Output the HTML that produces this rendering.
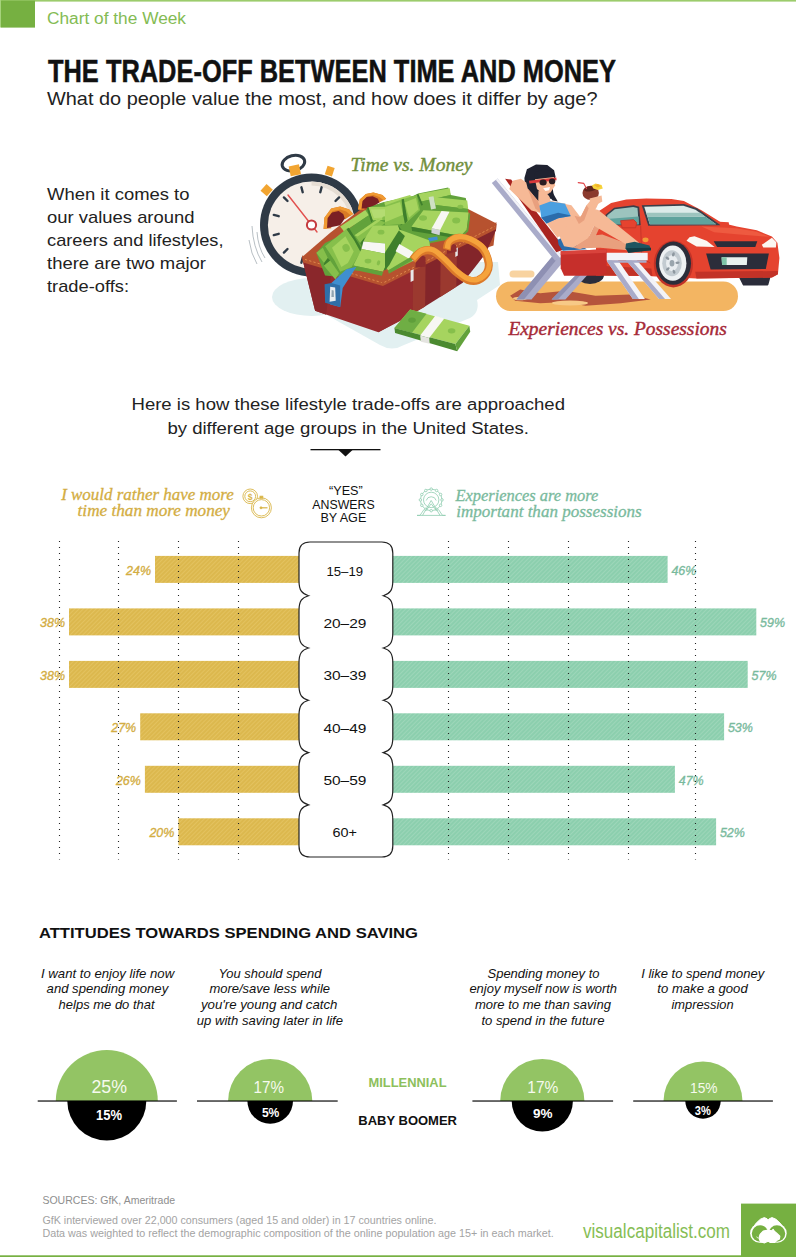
<!DOCTYPE html>
<html lang="en"><head><meta charset="utf-8"><title>The Trade-Off Between Time and Money</title>
<style>
html,body{margin:0;padding:0;background:#fff;}
body{width:796px;height:1257px;overflow:hidden;font-family:"Liberation Sans",sans-serif;}
svg{display:block;}
text{white-space:pre;}
</style></head><body>
<svg width="796" height="1257" viewBox="0 0 796 1257">
<defs>
<pattern id="hg" width="3" height="3" patternUnits="userSpaceOnUse" patternTransform="rotate(-45)"><rect width="3" height="3" fill="#dcb84e"/><rect width="3" height="1" fill="#e3c25f"/></pattern>
<pattern id="ht" width="3" height="3" patternUnits="userSpaceOnUse" patternTransform="rotate(-45)"><rect width="3" height="3" fill="#8ccfae"/><rect width="3" height="1" fill="#9dd6b9"/></pattern>
</defs>
<rect x="0" y="0" width="796" height="1257" fill="#fff"/>
<rect x="0" y="0" width="796" height="1.6" fill="#9ccc6c"/>
<rect x="0" y="0" width="1.2" height="27.5" fill="#a6d37c"/><rect x="1" y="0.6" width="34" height="27" fill="#76b041"/>
<text x="47.0" y="23.8" font-family="Liberation Sans" font-size="16" font-weight="normal" font-style="normal" fill="#84bb53" text-anchor="start" textLength="139.0" lengthAdjust="spacingAndGlyphs" >Chart of the Week</text>
<text x="48.0" y="81.8" font-family="Liberation Sans" font-size="31.3" font-weight="bold" font-style="normal" fill="#111" text-anchor="start" textLength="568.0" lengthAdjust="spacingAndGlyphs" stroke="#111" stroke-width="0.5">THE TRADE-OFF BETWEEN TIME AND MONEY</text>
<text x="47.0" y="104.6" font-family="Liberation Sans" font-size="17.7" font-weight="normal" font-style="normal" fill="#222" text-anchor="start" textLength="550.5" lengthAdjust="spacingAndGlyphs" >What do people value the most, and how does it differ by age?</text>
<text x="47.0" y="200.0" font-family="Liberation Sans" font-size="17" font-weight="normal" font-style="normal" fill="#222" text-anchor="start" textLength="142.5" lengthAdjust="spacingAndGlyphs" >When it comes to</text>
<text x="47.0" y="223.0" font-family="Liberation Sans" font-size="17" font-weight="normal" font-style="normal" fill="#222" text-anchor="start" textLength="147.5" lengthAdjust="spacingAndGlyphs" >our values around</text>
<text x="47.0" y="246.0" font-family="Liberation Sans" font-size="17" font-weight="normal" font-style="normal" fill="#222" text-anchor="start" textLength="176.5" lengthAdjust="spacingAndGlyphs" >careers and lifestyles,</text>
<text x="47.0" y="269.0" font-family="Liberation Sans" font-size="17" font-weight="normal" font-style="normal" fill="#222" text-anchor="start" textLength="159.0" lengthAdjust="spacingAndGlyphs" >there are two major</text>
<text x="47.0" y="291.7" font-family="Liberation Sans" font-size="17" font-weight="normal" font-style="normal" fill="#222" text-anchor="start" textLength="82.0" lengthAdjust="spacingAndGlyphs" >trade-offs:</text>
<text x="350.5" y="171.2" font-family="Liberation Serif" font-size="18.2" font-weight="normal" font-style="italic" fill="#728f3c" text-anchor="start" textLength="122.0" lengthAdjust="spacingAndGlyphs" stroke="#728f3c" stroke-width="0.4">Time vs. Money</text>
<text x="508.4" y="334.6" font-family="Liberation Serif" font-size="18.2" font-weight="normal" font-style="italic" fill="#a62a38" text-anchor="start" textLength="218.4" lengthAdjust="spacingAndGlyphs" stroke="#a62a38" stroke-width="0.4">Experiences vs. Possessions</text>
<text x="131.5" y="410.4" font-family="Liberation Sans" font-size="17.2" font-weight="normal" font-style="normal" fill="#222" text-anchor="start" textLength="433.5" lengthAdjust="spacingAndGlyphs" >Here is how these lifestyle trade-offs are approached</text>
<text x="167.4" y="433.5" font-family="Liberation Sans" font-size="17.2" font-weight="normal" font-style="normal" fill="#222" text-anchor="start" textLength="361.6" lengthAdjust="spacingAndGlyphs" >by different age groups in the United States.</text>
<rect x="310.5" y="449" width="70" height="1.3" fill="#111"/>
<path d="M338.5 450 L352.5 450 L345.5 456.5 Z" fill="#111"/>
<text x="61.2" y="499.8" font-family="Liberation Serif" font-size="16.5" font-weight="normal" font-style="italic" fill="#d3ad42" text-anchor="start" textLength="172.5" lengthAdjust="spacingAndGlyphs" stroke="#d3ad42" stroke-width="0.3">I would rather have more</text>
<text x="77.6" y="516.2" font-family="Liberation Serif" font-size="16.5" font-weight="normal" font-style="italic" fill="#d3ad42" text-anchor="start" textLength="152.4" lengthAdjust="spacingAndGlyphs" stroke="#d3ad42" stroke-width="0.3">time than more money</text>
<text x="455.5" y="500.5" font-family="Liberation Serif" font-size="16.5" font-weight="normal" font-style="italic" fill="#79ba9d" text-anchor="start" textLength="142.8" lengthAdjust="spacingAndGlyphs" stroke="#79ba9d" stroke-width="0.3">Experiences are more</text>
<text x="456.2" y="516.9" font-family="Liberation Serif" font-size="16.5" font-weight="normal" font-style="italic" fill="#79ba9d" text-anchor="start" textLength="185.5" lengthAdjust="spacingAndGlyphs" stroke="#79ba9d" stroke-width="0.3">important than possessions</text>
<text x="329.0" y="495.3" font-family="Liberation Sans" font-size="12" font-weight="normal" font-style="normal" fill="#111" text-anchor="start" textLength="33.7" lengthAdjust="spacingAndGlyphs" >“YES”</text>
<text x="312.3" y="509.2" font-family="Liberation Sans" font-size="12" font-weight="normal" font-style="normal" fill="#111" text-anchor="start" textLength="62.4" lengthAdjust="spacingAndGlyphs" >ANSWERS</text>
<text x="320.4" y="521.9" font-family="Liberation Sans" font-size="12" font-weight="normal" font-style="normal" fill="#111" text-anchor="start" textLength="45.9" lengthAdjust="spacingAndGlyphs" >BY AGE</text>
<rect x="155" y="555.9" width="145.0" height="27" fill="url(#hg)"/>
<rect x="392" y="555.9" width="275.6" height="27" fill="url(#ht)"/>
<text x="126.0" y="574.7" font-family="Liberation Sans" font-size="13.5" font-weight="normal" font-style="italic" fill="#d3ad42" text-anchor="start" textLength="25.0" lengthAdjust="spacingAndGlyphs" stroke="#d3ad42" stroke-width="0.35">24%</text>
<text x="671.4" y="574.7" font-family="Liberation Sans" font-size="13.5" font-weight="normal" font-style="italic" fill="#79ba9d" text-anchor="start" textLength="25.0" lengthAdjust="spacingAndGlyphs" stroke="#79ba9d" stroke-width="0.35">46%</text>
<rect x="69" y="608.4" width="231.0" height="27" fill="url(#hg)"/>
<rect x="392" y="608.4" width="364.3" height="27" fill="url(#ht)"/>
<text x="40.0" y="627.2" font-family="Liberation Sans" font-size="13.5" font-weight="normal" font-style="italic" fill="#d3ad42" text-anchor="start" textLength="25.0" lengthAdjust="spacingAndGlyphs" stroke="#d3ad42" stroke-width="0.35">38%</text>
<text x="760.1" y="627.2" font-family="Liberation Sans" font-size="13.5" font-weight="normal" font-style="italic" fill="#79ba9d" text-anchor="start" textLength="25.0" lengthAdjust="spacingAndGlyphs" stroke="#79ba9d" stroke-width="0.35">59%</text>
<rect x="69" y="660.9" width="231.0" height="27" fill="url(#hg)"/>
<rect x="392" y="660.9" width="355.7" height="27" fill="url(#ht)"/>
<text x="40.0" y="679.7" font-family="Liberation Sans" font-size="13.5" font-weight="normal" font-style="italic" fill="#d3ad42" text-anchor="start" textLength="25.0" lengthAdjust="spacingAndGlyphs" stroke="#d3ad42" stroke-width="0.35">38%</text>
<text x="751.5" y="679.7" font-family="Liberation Sans" font-size="13.5" font-weight="normal" font-style="italic" fill="#79ba9d" text-anchor="start" textLength="25.0" lengthAdjust="spacingAndGlyphs" stroke="#79ba9d" stroke-width="0.35">57%</text>
<rect x="140.2" y="713.3" width="159.8" height="27" fill="url(#hg)"/>
<rect x="392" y="713.3" width="332.1" height="27" fill="url(#ht)"/>
<text x="111.2" y="732.1" font-family="Liberation Sans" font-size="13.5" font-weight="normal" font-style="italic" fill="#d3ad42" text-anchor="start" textLength="25.0" lengthAdjust="spacingAndGlyphs" stroke="#d3ad42" stroke-width="0.35">27%</text>
<text x="727.9" y="732.1" font-family="Liberation Sans" font-size="13.5" font-weight="normal" font-style="italic" fill="#79ba9d" text-anchor="start" textLength="25.0" lengthAdjust="spacingAndGlyphs" stroke="#79ba9d" stroke-width="0.35">53%</text>
<rect x="144.9" y="765.8" width="155.1" height="27" fill="url(#hg)"/>
<rect x="392" y="765.8" width="282.9" height="27" fill="url(#ht)"/>
<text x="115.9" y="784.6" font-family="Liberation Sans" font-size="13.5" font-weight="normal" font-style="italic" fill="#d3ad42" text-anchor="start" textLength="25.0" lengthAdjust="spacingAndGlyphs" stroke="#d3ad42" stroke-width="0.35">26%</text>
<text x="678.7" y="784.6" font-family="Liberation Sans" font-size="13.5" font-weight="normal" font-style="italic" fill="#79ba9d" text-anchor="start" textLength="25.0" lengthAdjust="spacingAndGlyphs" stroke="#79ba9d" stroke-width="0.35">47%</text>
<rect x="178.4" y="818.3" width="121.6" height="27" fill="url(#hg)"/>
<rect x="392" y="818.3" width="324.1" height="27" fill="url(#ht)"/>
<text x="149.4" y="837.1" font-family="Liberation Sans" font-size="13.5" font-weight="normal" font-style="italic" fill="#d3ad42" text-anchor="start" textLength="25.0" lengthAdjust="spacingAndGlyphs" stroke="#d3ad42" stroke-width="0.35">20%</text>
<text x="719.9" y="837.1" font-family="Liberation Sans" font-size="13.5" font-weight="normal" font-style="italic" fill="#79ba9d" text-anchor="start" textLength="25.0" lengthAdjust="spacingAndGlyphs" stroke="#79ba9d" stroke-width="0.35">52%</text>
<line x1="59.5" y1="541" x2="59.5" y2="859.5" stroke="#222" stroke-width="1.1" stroke-dasharray="1.1 4.9"/>
<line x1="118.5" y1="541" x2="118.5" y2="859.5" stroke="#222" stroke-width="1.1" stroke-dasharray="1.1 4.9"/>
<line x1="178.5" y1="541" x2="178.5" y2="859.5" stroke="#222" stroke-width="1.1" stroke-dasharray="1.1 4.9"/>
<line x1="238.5" y1="541" x2="238.5" y2="859.5" stroke="#222" stroke-width="1.1" stroke-dasharray="1.1 4.9"/>
<line x1="448.5" y1="541" x2="448.5" y2="859.5" stroke="#222" stroke-width="1.1" stroke-dasharray="1.1 4.9"/>
<line x1="508.5" y1="541" x2="508.5" y2="859.5" stroke="#222" stroke-width="1.1" stroke-dasharray="1.1 4.9"/>
<line x1="568.5" y1="541" x2="568.5" y2="859.5" stroke="#222" stroke-width="1.1" stroke-dasharray="1.1 4.9"/>
<line x1="628.5" y1="541" x2="628.5" y2="859.5" stroke="#222" stroke-width="1.1" stroke-dasharray="1.1 4.9"/>
<line x1="695.5" y1="541" x2="695.5" y2="859.5" stroke="#222" stroke-width="1.1" stroke-dasharray="1.1 4.9"/>
<path d="M310 542 L381.8 542 Q392.8 542 392.8 553 L392.8 580.7 C392.8 590.7 389.8 593.7 383.3 595.7 C389.8 597.7 392.8 600.7 392.8 610.7 L392.8 633.0 C392.8 643.0 389.8 646.0 383.3 648.0 C389.8 650.0 392.8 653.0 392.8 663.0 L392.8 685.3000000000001 C392.8 695.3000000000001 389.8 698.3000000000001 383.3 700.3000000000001 C389.8 702.3000000000001 392.8 705.3000000000001 392.8 715.3000000000001 L392.8 737.6 C392.8 747.6 389.8 750.6 383.3 752.6 C389.8 754.6 392.8 757.6 392.8 767.6 L392.8 789.9000000000001 C392.8 799.9000000000001 389.8 802.9000000000001 383.3 804.9000000000001 C389.8 806.9000000000001 392.8 809.9000000000001 392.8 819.9000000000001 L392.8 846 Q392.8 857 381.8 857 L310 857 Q299 857 299 846 L299 819.9000000000001 C299 809.9000000000001 302 806.9000000000001 308.5 804.9000000000001 C302 802.9000000000001 299 799.9000000000001 299 789.9000000000001 L299 767.6 C299 757.6 302 754.6 308.5 752.6 C302 750.6 299 747.6 299 737.6 L299 715.3000000000001 C299 705.3000000000001 302 702.3000000000001 308.5 700.3000000000001 C302 698.3000000000001 299 695.3000000000001 299 685.3000000000001 L299 663.0 C299 653.0 302 650.0 308.5 648.0 C302 646.0 299 643.0 299 633.0 L299 610.7 C299 600.7 302 597.7 308.5 595.7 C302 593.7 299 590.7 299 580.7 L299 553 Q299 542 310 542 Z" fill="#fff" stroke="#222" stroke-width="1.2"/>
<text x="326.5" y="575.7" font-family="Liberation Sans" font-size="13" font-weight="normal" font-style="normal" fill="#111" text-anchor="start" textLength="36.5" lengthAdjust="spacingAndGlyphs" >15–19</text>
<text x="323.4" y="628.0" font-family="Liberation Sans" font-size="13" font-weight="normal" font-style="normal" fill="#111" text-anchor="start" textLength="43.0" lengthAdjust="spacingAndGlyphs" >20–29</text>
<text x="323.4" y="680.3" font-family="Liberation Sans" font-size="13" font-weight="normal" font-style="normal" fill="#111" text-anchor="start" textLength="43.0" lengthAdjust="spacingAndGlyphs" >30–39</text>
<text x="323.4" y="732.6" font-family="Liberation Sans" font-size="13" font-weight="normal" font-style="normal" fill="#111" text-anchor="start" textLength="43.0" lengthAdjust="spacingAndGlyphs" >40–49</text>
<text x="323.4" y="784.9" font-family="Liberation Sans" font-size="13" font-weight="normal" font-style="normal" fill="#111" text-anchor="start" textLength="43.0" lengthAdjust="spacingAndGlyphs" >50–59</text>
<text x="332.5" y="837.2" font-family="Liberation Sans" font-size="13" font-weight="normal" font-style="normal" fill="#111" text-anchor="start" textLength="24.5" lengthAdjust="spacingAndGlyphs" >60+</text>
<text x="39.0" y="938.1" font-family="Liberation Sans" font-size="15.3" font-weight="bold" font-style="normal" fill="#111" text-anchor="start" textLength="379.0" lengthAdjust="spacingAndGlyphs" >ATTITUDES TOWARDS SPENDING AND SAVING</text>
<text x="41.0" y="977.8" font-family="Liberation Sans" font-size="13" font-weight="normal" font-style="italic" fill="#111" text-anchor="start" textLength="133.2" lengthAdjust="spacingAndGlyphs" >I want to enjoy life now</text>
<text x="46.6" y="993.4" font-family="Liberation Sans" font-size="13" font-weight="normal" font-style="italic" fill="#111" text-anchor="start" textLength="121.6" lengthAdjust="spacingAndGlyphs" >and spending money</text>
<text x="58.6" y="1009.0" font-family="Liberation Sans" font-size="13" font-weight="normal" font-style="italic" fill="#111" text-anchor="start" textLength="96.0" lengthAdjust="spacingAndGlyphs" >helps me do that</text>
<text x="218.4" y="977.8" font-family="Liberation Sans" font-size="13" font-weight="normal" font-style="italic" fill="#111" text-anchor="start" textLength="103.1" lengthAdjust="spacingAndGlyphs" >You should spend</text>
<text x="209.4" y="993.4" font-family="Liberation Sans" font-size="13" font-weight="normal" font-style="italic" fill="#111" text-anchor="start" textLength="120.6" lengthAdjust="spacingAndGlyphs" >more/save less while</text>
<text x="200.9" y="1009.0" font-family="Liberation Sans" font-size="13" font-weight="normal" font-style="italic" fill="#111" text-anchor="start" textLength="136.6" lengthAdjust="spacingAndGlyphs" >you're young and catch</text>
<text x="196.8" y="1024.6" font-family="Liberation Sans" font-size="13" font-weight="normal" font-style="italic" fill="#111" text-anchor="start" textLength="146.2" lengthAdjust="spacingAndGlyphs" >up with saving later in life</text>
<text x="487.5" y="977.8" font-family="Liberation Sans" font-size="13" font-weight="normal" font-style="italic" fill="#111" text-anchor="start" textLength="112.0" lengthAdjust="spacingAndGlyphs" >Spending money to</text>
<text x="469.4" y="993.4" font-family="Liberation Sans" font-size="13" font-weight="normal" font-style="italic" fill="#111" text-anchor="start" textLength="147.7" lengthAdjust="spacingAndGlyphs" >enjoy myself now is worth</text>
<text x="474.9" y="1009.0" font-family="Liberation Sans" font-size="13" font-weight="normal" font-style="italic" fill="#111" text-anchor="start" textLength="136.1" lengthAdjust="spacingAndGlyphs" >more to me than saving</text>
<text x="481.4" y="1024.6" font-family="Liberation Sans" font-size="13" font-weight="normal" font-style="italic" fill="#111" text-anchor="start" textLength="123.1" lengthAdjust="spacingAndGlyphs" >to spend in the future</text>
<text x="641.2" y="977.8" font-family="Liberation Sans" font-size="13" font-weight="normal" font-style="italic" fill="#111" text-anchor="start" textLength="123.1" lengthAdjust="spacingAndGlyphs" >I like to spend money</text>
<text x="657.3" y="993.4" font-family="Liberation Sans" font-size="13" font-weight="normal" font-style="italic" fill="#111" text-anchor="start" textLength="90.4" lengthAdjust="spacingAndGlyphs" >to make a good</text>
<text x="671.4" y="1009.0" font-family="Liberation Sans" font-size="13" font-weight="normal" font-style="italic" fill="#111" text-anchor="start" textLength="62.3" lengthAdjust="spacingAndGlyphs" >impression</text>
<path d="M55.8 1101 A51.0 51.0 0 0 1 157.8 1101 Z" fill="#93c464"/>
<path d="M67.3 1101 A39.5 39.5 0 0 0 146.3 1101 Z" fill="#000"/>
<rect x="37.7" y="1100.45" width="139.2" height="1.15" fill="#000"/>
<path d="M228.1 1101 A42.1 42.1 0 0 1 312.3 1101 Z" fill="#93c464"/>
<path d="M247.4 1101 A22.8 22.8 0 0 0 293.0 1101 Z" fill="#000"/>
<rect x="197" y="1100.45" width="140.7" height="1.15" fill="#000"/>
<path d="M500.2 1101 A42.1 42.1 0 0 1 584.4 1101 Z" fill="#93c464"/>
<path d="M511.7 1101 A30.6 30.6 0 0 0 572.9 1101 Z" fill="#000"/>
<rect x="472.4" y="1100.45" width="140.7" height="1.15" fill="#000"/>
<path d="M663.5 1101 A39.5 39.5 0 0 1 742.5 1101 Z" fill="#93c464"/>
<path d="M685.3 1101 A17.7 17.7 0 0 0 720.7 1101 Z" fill="#000"/>
<rect x="633.2" y="1100.45" width="139.7" height="1.15" fill="#000"/>
<text x="91.5" y="1093.2" font-family="Liberation Sans" font-size="18.5" font-weight="normal" font-style="normal" fill="#f6faee" text-anchor="start" textLength="35.5" lengthAdjust="spacingAndGlyphs" >25%</text>
<text x="253.6" y="1093.2" font-family="Liberation Sans" font-size="16" font-weight="normal" font-style="normal" fill="#f6faee" text-anchor="start" textLength="30.5" lengthAdjust="spacingAndGlyphs" >17%</text>
<text x="527.3" y="1093.2" font-family="Liberation Sans" font-size="16" font-weight="normal" font-style="normal" fill="#f6faee" text-anchor="start" textLength="31.0" lengthAdjust="spacingAndGlyphs" >17%</text>
<text x="690.0" y="1093.0" font-family="Liberation Sans" font-size="15" font-weight="normal" font-style="normal" fill="#f6faee" text-anchor="start" textLength="27.5" lengthAdjust="spacingAndGlyphs" >15%</text>
<text x="96.0" y="1120.0" font-family="Liberation Sans" font-size="14.5" font-weight="bold" font-style="normal" fill="#fff" text-anchor="start" textLength="26.0" lengthAdjust="spacingAndGlyphs" >15%</text>
<text x="261.9" y="1116.5" font-family="Liberation Sans" font-size="13" font-weight="bold" font-style="normal" fill="#fff" text-anchor="start" textLength="17.5" lengthAdjust="spacingAndGlyphs" >5%</text>
<text x="532.9" y="1118.0" font-family="Liberation Sans" font-size="13.5" font-weight="bold" font-style="normal" fill="#fff" text-anchor="start" textLength="19.5" lengthAdjust="spacingAndGlyphs" >9%</text>
<text x="694.8" y="1115.0" font-family="Liberation Sans" font-size="12" font-weight="bold" font-style="normal" fill="#fff" text-anchor="start" textLength="16.0" lengthAdjust="spacingAndGlyphs" >3%</text>
<text x="368.5" y="1087.1" font-family="Liberation Sans" font-size="12" font-weight="bold" font-style="normal" fill="#8dc05c" text-anchor="start" textLength="78.0" lengthAdjust="spacingAndGlyphs" >MILLENNIAL</text>
<text x="358.3" y="1125.2" font-family="Liberation Sans" font-size="12" font-weight="bold" font-style="normal" fill="#111" text-anchor="start" textLength="98.7" lengthAdjust="spacingAndGlyphs" >BABY BOOMER</text>
<text x="42.4" y="1203.8" font-family="Liberation Sans" font-size="10.5" font-weight="normal" font-style="normal" fill="#8e8e8e" text-anchor="start" textLength="132.7" lengthAdjust="spacingAndGlyphs" >SOURCES: GfK, Ameritrade</text>
<text x="42.4" y="1224.2" font-family="Liberation Sans" font-size="10.5" font-weight="normal" font-style="normal" fill="#a3a3a3" text-anchor="start" textLength="394.1" lengthAdjust="spacingAndGlyphs" >GfK interviewed over 22,000 consumers (aged 15 and older) in 17 countries online.</text>
<text x="42.4" y="1237.0" font-family="Liberation Sans" font-size="10.5" font-weight="normal" font-style="normal" fill="#a3a3a3" text-anchor="start" textLength="511.3" lengthAdjust="spacingAndGlyphs" >Data was weighted to reflect the demographic composition of the online population age 15+ in each market.</text>
<text x="583.0" y="1238.2" font-family="Liberation Sans" font-size="19.5" font-weight="normal" font-style="normal" fill="#86bd55" text-anchor="start" textLength="147.0" lengthAdjust="spacingAndGlyphs" >visualcapitalist.com</text>
<rect x="741" y="1203.6" width="56" height="54" fill="#76b041"/>
<rect x="0" y="1255.3" width="796" height="2" fill="#76b041"/>
<ellipse cx="312" cy="297" rx="40" ry="19" fill="#e2f0f1"/>
<path d="M300 300 L380 345 Q392 352 404 345 L470 318 Q480 312 477 300 L500 285 L498 262 L440 262 Z" fill="#e2f0f1"/>
<g>
<path d="M252 226 Q253 247 262 262 M257 232 Q258 247 265 258 M249 240 Q251 254 257 264" fill="none" stroke="#9aa3ab" stroke-width="0.7"/>
<ellipse cx="293.4" cy="163.2" rx="11.5" ry="7.6" transform="rotate(-14 293.4 163.2)" fill="none" stroke="#2f3a46" stroke-width="3"/>
<rect x="289.5" y="165.5" width="10.5" height="10" transform="rotate(-12 294 170)" fill="#f2a531"/>
<rect x="326" y="166.5" width="7.5" height="9" transform="rotate(18 329.5 171)" fill="#f2a531"/>
<rect x="262" y="186" width="9" height="8.5" transform="rotate(-48 266.5 190)" fill="#f2a531"/>
<circle cx="311.5" cy="225" r="51.5" fill="#2f3a46"/>
<circle cx="311.5" cy="225" r="43.6" fill="#f6efe8"/>
<path d="M311.5 181.4 A43.6 43.6 0 0 1 355.1 225 L351 225 A39.5 39.5 0 0 0 311.5 185.5 Z" fill="#e6ddd3"/>
<line x1="320.3" y1="192.2" x2="321.6" y2="187.3" stroke="#2f3a46" stroke-width="2.4" stroke-linecap="round"/>
<line x1="335.5" y1="201.0" x2="339.1" y2="197.4" stroke="#2f3a46" stroke-width="2.4" stroke-linecap="round"/>
<line x1="344.3" y1="216.2" x2="349.2" y2="214.9" stroke="#2f3a46" stroke-width="2.4" stroke-linecap="round"/>
<line x1="344.3" y1="233.8" x2="349.2" y2="235.1" stroke="#2f3a46" stroke-width="2.4" stroke-linecap="round"/>
<line x1="335.5" y1="249.0" x2="339.1" y2="252.6" stroke="#2f3a46" stroke-width="2.4" stroke-linecap="round"/>
<line x1="320.3" y1="257.8" x2="321.6" y2="262.7" stroke="#2f3a46" stroke-width="2.4" stroke-linecap="round"/>
<line x1="302.7" y1="257.8" x2="301.4" y2="262.7" stroke="#2f3a46" stroke-width="2.4" stroke-linecap="round"/>
<line x1="287.5" y1="249.0" x2="283.9" y2="252.6" stroke="#2f3a46" stroke-width="2.4" stroke-linecap="round"/>
<line x1="278.7" y1="233.8" x2="273.8" y2="235.1" stroke="#2f3a46" stroke-width="2.4" stroke-linecap="round"/>
<line x1="278.7" y1="216.2" x2="273.8" y2="214.9" stroke="#2f3a46" stroke-width="2.4" stroke-linecap="round"/>
<line x1="287.5" y1="201.0" x2="283.9" y2="197.4" stroke="#2f3a46" stroke-width="2.4" stroke-linecap="round"/>
<line x1="302.7" y1="192.2" x2="301.4" y2="187.3" stroke="#2f3a46" stroke-width="2.4" stroke-linecap="round"/>
<path d="M288 195 L317 232" stroke="#e2504e" stroke-width="1.4" stroke-linecap="round"/>
<circle cx="311.5" cy="225" r="4.6" fill="#fff" stroke="#c53a3e" stroke-width="2"/>
</g>
<path d="M302.5 256.7 L330.2 232.8 L362.8 207.7 L405.5 197.6 L450.8 200.2 L496.0 223.3 L493.5 245.4 L382.9 283.1 Z" fill="#b7522f"/>
<path d="M323.6 229.0 L324.4 217.7 L331.2 208.6 L340.2 206.4 L349.3 209.4 L353.0 213.9 L344.8 219.5 L340.2 213.9 L335.0 213.9 L331.9 219.2 L331.2 228.2 Z" fill="#d97a26"/>
<path d="M327.0 227.9 L327.4 218.4 L331.9 212.4 L338.7 210.9 L343.2 213.9 L344.8 218.4 L340.2 225.2 Z" fill="#7a1f24"/>
<path d="M323.6 229.0 L324.4 217.7 L331.2 208.6 L340.2 206.4 L349.3 209.4 L353.0 213.9 L350.8 215.4 L346.3 211.4 L340.2 209.4 L332.7 210.9 L327.4 217.7 L327.0 228.2 Z" fill="#f09a33"/>
<path d="M358.0 209.4 L359.8 199.6 L365.9 193.9 L373.4 192.4 L382.4 195.1 L386.2 198.8 L379.4 202.6 L373.4 198.8 L367.4 199.6 L364.7 204.9 L364.4 210.2 Z" fill="#d97a26"/>
<path d="M361.3 208.6 L362.1 201.1 L366.6 196.9 L372.6 196.3 L377.9 198.8 L379.4 202.6 L370.4 207.9 Z" fill="#7a1f24"/>
<path d="M358.0 209.4 L359.8 199.6 L365.9 193.9 L373.4 192.4 L382.4 195.1 L386.2 198.8 L383.9 200.4 L379.4 196.9 L373.4 195.1 L367.1 196.3 L362.5 201.1 L361.3 209.4 Z" fill="#f09a33"/>
<path d="M382.9 280.6 L496.5 223.8 L496.0 230.3 L485.4 253.9 L462.8 282.8 L422.6 307.9 L378.4 332.3 Z" fill="#83252a"/>
<path d="M412.6 270.5 L425.6 263.5 L425.1 306.4 L412.1 314.2 Z" fill="#9b392f"/>
<path d="M440.7 256.7 L457.0 248.4 L456.3 286.8 L440.2 296.9 Z" fill="#9b392f"/>
<path d="M302.0 257.4 L384.2 281.1 L413.1 266.7 L412.6 314.5 L378.4 332.3 L315.1 310.7 Z" fill="#972b2e"/>
<path d="M302.0 257.4 L332.2 266.5 L326.1 314.7 L315.1 310.7 Z" fill="#8a272b"/>
<path d="M302.0 255.4 L382.9 278.5 L496.5 222.3 L496.0 229.3 L382.9 286.1 L303.0 262.5 Z" fill="#b7522f"/>
<path d="M305.0 259.4 L381.7 282.6" fill="none" stroke="#e08a4c" stroke-width="1" stroke-dasharray="2.2 2.2"/>
<path d="M384.4 282.3 L494.7 226.3" fill="none" stroke="#e08a4c" stroke-width="1" stroke-dasharray="2.2 2.2"/>
<path d="M316.3 252.9 L325.1 242.9 L349.0 231.6 L367.8 207.7 L382.9 202.2 L413.1 195.9 L418.1 193.4 L448.2 187.6 L450.8 195.1 L465.8 198.1 L467.8 211.5 L469.6 220.3 L460.8 237.3 L430.7 242.9 L408.0 263.0 L387.9 269.2 L354.0 270.5 L337.7 276.8 L325.1 275.5 Z" fill="#62a23b" />
<path d="M340.2 226.5 L365.3 210.1 L368.8 215.2 L344.2 231.7 Z" fill="#a6d45f" />
<path d="M344.2 231.7 L368.8 215.2 L369.3 218.7 L352.1 230.5 Z" fill="#62a23b" />
<path d="M368.4 207.0 L397.9 206.4 L400.5 219.2 L372.8 220.4 L370.3 213.9 Z" fill="#a6d45f" />
<path d="M370.9 209.5 L395.4 208.9 L397.3 217.0 L374.1 217.9 Z" fill="#b4dc72" />
<ellipse cx="385.4" cy="218.7" rx="3.2" ry="2.4" fill="#86bf4b" transform="rotate(0 385.4 218.7)"/>
<path d="M366.8 207.9 L368.4 207.0 L372.8 220.4 L371.3 222.7 Z" fill="#3f7f2c" />
<path d="M372.8 220.4 L400.5 219.2 L400.7 221.7 L373.4 223.3 Z" fill="#62a23b" />
<path d="M384.1 202.6 L410.0 195.1 L414.3 200.1 L400.5 205.1 L385.4 205.9 Z" fill="#a6d45f" />
<path d="M385.4 205.9 L400.5 205.1 L401.0 208.6 L386.1 208.9 Z" fill="#62a23b" />
<path d="M397.9 206.4 L403.2 205.1 L404.5 222.7 L400.7 225.5 Z" fill="#3f7f2c" />
<path d="M354.6 235.3 L377.8 219.2 L385.6 222.7 L364.3 238.0 L360.3 243.0 Z" fill="#86bf4b" />
<path d="M354.6 235.3 L377.8 219.2 L380.4 220.4 L357.7 236.5 Z" fill="#a6d45f" />
<path d="M360.3 243.0 L364.3 238.0 L365.5 247.8 L362.8 249.3 Z" fill="#3f7f2c" />
<path d="M322.6 246.6 L325.1 246.3 L334.5 260.4 L340.2 271.7 L337.9 273.2 L326.3 255.6 Z" fill="#62a23b" />
<path d="M325.1 246.3 L346.4 229.0 L354.2 240.3 L360.5 251.8 L351.7 266.9 L340.2 271.7 L334.5 260.4 Z" fill="#86bf4b" />
<path d="M332.0 247.8 L345.4 236.3 L353.7 251.6 L347.9 263.1 L341.4 266.9 Z" fill="#a6d45f" />
<ellipse cx="346.1" cy="247.8" rx="3.6" ry="4" fill="#86bf4b" transform="rotate(-25 346.1 247.8)"/>
<path d="M346.4 229.0 L348.9 227.7 L362.8 250.3 L360.5 251.8 L354.2 240.3 Z" fill="#3f7f2c" />
<path d="M372.8 225.8 L397.9 225.2 L399.9 230.2 L391.7 244.0 L363.4 241.5 L366.8 235.3 Z" fill="#a6d45f" />
<ellipse cx="381.0" cy="232.2" rx="3.4" ry="2.4" fill="#86bf4b" transform="rotate(0 381.0 232.2)"/>
<path d="M363.4 241.5 L390.7 244.0 L392.4 250.3 L390.4 254.8 L361.5 249.1 Z" fill="#f7f7f3" />
<path d="M386.9 243.5 L392.4 245.3 L390.7 254.8 L385.4 253.6 Z" fill="#cfd2d6" />
<path d="M361.5 249.1 L390.4 254.8 L383.1 271.7 L353.3 265.4 Z" fill="#a6d45f" />
<ellipse cx="368.0" cy="261.1" rx="3.4" ry="2.4" fill="#86bf4b" transform="rotate(0 368.0 261.1)"/>
<ellipse cx="378.5" cy="262.9" rx="1.6" ry="2.6" fill="#86bf4b" transform="rotate(20 378.5 262.9)"/>
<path d="M397.9 225.2 L405.7 235.3 L388.1 265.7 L383.1 271.7 L390.4 254.8 L392.4 250.3 L399.9 230.2 Z" fill="#3f7f2c" />
<path d="M353.3 265.4 L383.1 271.7 L381.9 275.7 L352.7 269.4 Z" fill="#62a23b" />
<path d="M316.3 252.8 L322.8 247.8 L327.8 257.9 L324.1 263.1 Z" fill="#86bf4b" />
<path d="M323.8 265.4 L330.1 260.4 L339.1 273.2 L335.4 279.5 Z" fill="#86bf4b" />
<path d="M324.1 263.1 L327.8 257.9 L330.1 260.4 L323.8 265.4 Z" fill="#3f7f2c" />
<path d="M388.1 265.7 L405.7 235.3 L414.3 240.3 L414.3 260.4 L390.7 271.9 Z" fill="#86bf4b" />
<path d="M400.5 242.8 L414.3 249.7 L414.3 259.1 L397.9 250.6 Z" fill="#f7f7f3" />
<path d="M397.9 250.6 L414.3 259.1 L414.3 261.6 L397.7 252.8 Z" fill="#cfd2d6" />
<path d="M385.0 205.6 L401.6 199.6 L416.7 195.1 L420.0 210.2 L404.9 224.0 L385.0 225.2 Z" fill="#86bf4b" />
<path d="M385.0 207.1 L400.1 201.9 L403.1 214.7 L385.0 222.2 Z" fill="#a6d45f" />
<path d="M401.6 199.6 L403.8 198.8 L407.6 220.7 L404.9 224.0 L403.1 214.7 Z" fill="#3f7f2c" />
<path d="M404.6 202.6 L415.9 198.1 L418.5 209.4 L409.1 217.7 Z" fill="#a6d45f" />
<path d="M416.7 194.3 L449.8 188.3 L450.7 195.1 L421.5 201.4 Z" fill="#a6d45f" />
<path d="M421.5 201.4 L450.7 195.1 L451.3 197.8 L422.7 204.9 Z" fill="#62a23b" />
<path d="M416.7 194.3 L418.5 193.9 L423.0 204.9 L421.2 205.6 Z" fill="#3f7f2c" />
<path d="M433.5 196.9 L467.2 200.4 L468.2 208.9 L435.5 204.9 Z" fill="#a6d45f" />
<path d="M435.5 204.9 L468.2 208.9 L468.2 212.0 L436.0 207.9 Z" fill="#62a23b" />
<path d="M428.7 196.9 L433.5 196.3 L436.0 208.6 L431.0 209.4 Z" fill="#cfe0c4" />
<ellipse cx="460.4" cy="206.8" rx="3" ry="2" fill="#86bf4b" transform="rotate(0 460.4 206.8)"/>
<path d="M423.4 210.2 L468.8 212.4 L466.7 229.8 L460.7 236.1 L411.4 226.7 Z" fill="#a6d45f" />
<ellipse cx="423.0" cy="218.0" rx="4" ry="2.8" fill="#86bf4b" transform="rotate(0 423.0 218.0)"/>
<ellipse cx="456.2" cy="220.4" rx="4" ry="3" fill="#86bf4b" transform="rotate(0 456.2 220.4)"/>
<path d="M411.4 226.7 L460.7 236.1 L459.9 238.8 L412.1 231.0 Z" fill="#3f7f2c" />
<path d="M460.7 236.1 L466.7 229.8 L468.8 212.4 L470.3 213.9 L468.2 231.3 L459.9 238.8 Z" fill="#62a23b" />
<path d="M441.5 210.9 L449.5 211.7 L440.2 230.1 L431.7 228.2 Z" fill="#f7f7f3" />
<path d="M431.7 228.2 L440.2 230.1 L439.6 235.2 L431.4 233.1 Z" fill="#cfd2d6" />
<path d="M400.1 229.8 L429.0 240.3 L430.2 246.6 L407.6 258.7 L388.0 270.5 L385.0 264.4 L385.0 243.3 Z" fill="#a6d45f" />
<path d="M398.9 230.5 L404.9 236.1 L389.5 264.7 L385.0 270.5 L385.0 252.4 Z" fill="#3f7f2c" />
<path d="M399.3 244.1 L413.3 252.1 L409.1 258.7 L395.6 251.2 Z" fill="#f7f7f3" />
<path d="M388.0 270.5 L407.6 258.7 L430.2 246.6 L430.5 249.7 L388.8 273.8 Z" fill="#62a23b" />
<path d="M428.0 238.0 L437.2 236.5 L437.8 239.7 L429.5 241.5 Z" fill="#3f8fd0" />
<path d="M346.5 269.2 L356.5 266.7 L342.7 288.1 L340.2 306.9 L330.2 304.4 L331.4 283.1 Z" fill="#3f8fd0" />
<path d="M331.4 283.1 L340.2 285.6 L340.2 306.9 L325.1 302.7 L324.6 284.3 Z" fill="#2f6fa8" />
<path d="M330.2 286.8 L335.2 287.6 L335.7 300.7 L329.6 301.7 Z" fill="#e8edf0" />
<path d="M331.7 290.1 L333.7 290.4 L333.9 296.9 L331.4 297.1 Z" fill="#8fa3b0" />
<path d="M410.6 270.5 L413.6 269.2 L413.6 280.6 L410.6 282.1 Z" fill="#e8e8e8" />
<path d="M455.3 248.4 L457.8 247.4 L457.8 255.4 L455.3 256.9 Z" fill="#e8e8e8" />
<path d="M415.3 267.7 L416.1 257.0 L420.7 254.5 L425.4 257.0 L425.9 266.4 Z" fill="#8e2b2c" />
<path d="M446.7 253.9 L447.5 245.7 L451.5 243.2 L456.0 245.1 L456.8 251.4 Z" fill="#8e2b2c" />
<path d="M412.6 259.9 C414.0 258.5 418.0 253.1 421.4 251.6 C424.7 250.1 428.9 249.6 432.7 251.0 C436.4 252.3 440.0 256.2 444.0 259.8 C447.9 263.3 452.6 269.0 456.5 272.3 C460.5 275.7 464.3 278.6 467.8 279.9 C471.4 281.2 474.7 281.4 477.9 280.3 C481.0 279.1 484.9 275.9 486.7 273.0 C488.5 270.1 489.2 266.9 488.6 262.9 C487.9 258.9 486.0 252.9 482.9 249.1 C479.9 245.3 474.3 242.2 470.4 240.3 C466.4 238.4 462.6 237.5 459.0 237.8 C455.5 238.1 451.0 240.2 449.0 242.2 C446.9 244.2 447.1 248.6 446.7 249.8" fill="none" stroke="#dc7a2a" stroke-width="8" stroke-linecap="butt"/>
<path d="M412.6 259.9 C414.0 258.5 418.0 253.1 421.4 251.6 C424.7 250.1 428.9 249.6 432.7 251.0 C436.4 252.3 440.0 256.2 444.0 259.8 C447.9 263.3 452.6 269.0 456.5 272.3 C460.5 275.7 464.3 278.6 467.8 279.9 C471.4 281.2 474.7 281.4 477.9 280.3 C481.0 279.1 484.9 275.9 486.7 273.0 C488.5 270.1 489.2 266.9 488.6 262.9 C487.9 258.9 486.0 252.9 482.9 249.1 C479.9 245.3 474.3 242.2 470.4 240.3 C466.4 238.4 462.6 237.5 459.0 237.8 C455.5 238.1 451.0 240.2 449.0 242.2 C446.9 244.2 447.1 248.6 446.7 249.8" fill="none" stroke="#f5a33c" stroke-width="5.2" stroke-linecap="butt" transform="translate(0.5,-1.1)"/>
<path d="M394.4 327.9 L410.1 309.4 L469.4 325.8 L455.4 344.0 Z" fill="#a6d45f" />
<path d="M394.4 327.9 L410.1 309.4 L426.5 313.8 L412.0 332.7 Z" fill="#6fae44" />
<path d="M394.4 327.9 L455.4 344.0 L457.2 351.2 L395.1 332.9 Z" fill="#4b8a30" />
<path d="M455.4 344.0 L469.4 325.8 L470.2 331.7 L457.2 351.2 Z" fill="#62a23b" />
<path d="M435.3 315.7 L444.3 318.4 L429.2 338.0 L420.2 335.5 Z" fill="#f7f7f3" />
<path d="M420.2 335.5 L429.2 338.0 L429.7 343.7 L420.8 341.7 Z" fill="#e4e4e0" />
<ellipse cx="451.6" cy="330.8" rx="3.8" ry="2.6" fill="#86bf4b"/>
<ellipse cx="412.0" cy="320.1" rx="3.8" ry="2.6" fill="#5f9f3a"/>
<rect x="496" y="281.5" width="242" height="29.5" rx="14.7" fill="#f3b562"/>
<rect x="509.5" y="270.5" width="25" height="7" rx="3.5" fill="#f8d3a0"/>
<path d="M510.1 295.7 L520.2 289.4 L540.3 293.2 L565.4 290.7 L595.5 295.7 L630.7 294.4 L650.8 299.5 L620.7 303.2 L585.5 305.8 L565.4 302.0 L540.3 303.2 L515.1 300.7 Z" fill="#b5543c" />
<ellipse cx="570" cy="303" rx="18" ry="2.6" fill="#f7c987"/>
<ellipse cx="520" cy="298.5" rx="7" ry="1.8" fill="#f7c987"/>
<ellipse cx="590" cy="275" rx="14" ry="9" fill="#2b2d3a"/>
<path d="M739.2 275.5 L769.9 275.5 L767.4 284.5 L743.7 284.5 Z" fill="#2b2d3a" stroke="#2b2d3a" stroke-width="2" stroke-linejoin="round"/>
<path d="M596.0 212.7 L601.0 209.7 L611.1 203.1 L626.2 199.6 L646.3 198.6 L671.4 199.1 L683.9 201.1 L701.5 210.2 L721.6 222.7 L736.7 226.5 L756.8 230.3 L771.9 236.6 L777.4 242.8 L779.4 257.9 L777.9 274.2 L771.9 277.5 L736.7 278.0 L696.5 278.5 L646.3 276.0 L596.0 275.5 Z" fill="#e5432f" />
<path d="M701.5 226.5 L736.7 228.3 L756.8 231.8 L769.4 236.8 L736.7 234.3 L714.1 232.3 Z" fill="#ee5a40" />
<path d="M596.0 265.5 L651.3 268.5 L652.5 276.0 L596.0 275.5 Z" fill="#c23227" />
<path d="M695.2 271.7 L777.9 271.0 L777.9 274.2 L771.9 277.5 L696.5 278.5 Z" fill="#c23227" />
<path d="M604.0 225.3 L605.5 214.7 L614.1 207.7 L633.7 205.2 L639.2 206.7 L640.7 225.3 Z" fill="#3a3f4a" />
<path d="M606.1 224.2 L607.3 215.2 L614.8 209.2 L633.2 206.9 L637.5 207.9 L638.7 224.2 Z" fill="#9cc4be" />
<path d="M606.1 224.2 L606.6 219.0 L638.7 216.5 L638.7 224.2 Z" fill="#5fa39d" />
<path d="M641.7 205.2 L683.9 203.9 L697.0 208.2 L720.6 225.3 L648.3 225.8 Z" fill="#3a3f4a" />
<path d="M644.2 206.7 L683.4 205.7 L695.5 209.7 L716.1 224.2 L649.8 224.2 Z" fill="#dcebe9" />
<path d="M647.5 216.5 L705.5 216.7 L716.1 224.2 L649.8 224.2 Z" fill="#5fa39d" />
<path d="M646.3 212.7 L700.3 212.7 L705.5 216.7 L647.5 216.5 Z" fill="#9cc4be" />
<path d="M620.6 220.7 L633.7 219.7 L636.7 222.7 L635.7 227.8 L622.1 227.8 Z" fill="#e5432f" stroke="#c23227" stroke-width="0.8"/>
<path d="M719.1 221.7 L728.7 222.2 L729.2 226.3 L720.6 226.3 Z" fill="#e5432f" />
<path d="M640.7 226.5 L641.7 257.9 L650.0 262.9" fill="none" stroke="#c23227" stroke-width="0.8" stroke-linecap="round" stroke-linejoin="round" />
<ellipse cx="645.5" cy="239.8" rx="3" ry="2.4" fill="#f29b38"/>
<ellipse cx="673.4" cy="264" rx="19.6" ry="23.4" fill="#c23227"/>
<ellipse cx="673.4" cy="263.2" rx="17.6" ry="21.6" fill="#2b2d3a"/>
<ellipse cx="672.8" cy="263.2" rx="13.6" ry="17.6" fill="#eef1f3"/>
<ellipse cx="672" cy="263.2" rx="9.8" ry="13" fill="#c3cbd1"/>
<ellipse cx="672" cy="263.2" rx="6" ry="8" fill="#e9edf0"/>
<ellipse cx="672" cy="263.2" rx="2.4" ry="3.2" fill="#9aa5ad"/>
<ellipse cx="673.4" cy="254.4" rx="1.3" ry="2.1" fill="#8d979f" transform="rotate(15 673.4 254.4)"/>
<ellipse cx="677.5" cy="262.7" rx="1.3" ry="2.1" fill="#8d979f" transform="rotate(87 677.5 262.7)"/>
<ellipse cx="674.0" cy="271.7" rx="1.3" ry="2.1" fill="#8d979f" transform="rotate(159 674.0 271.7)"/>
<ellipse cx="667.8" cy="268.9" rx="1.3" ry="2.1" fill="#8d979f" transform="rotate(231 667.8 268.9)"/>
<ellipse cx="667.4" cy="258.2" rx="1.3" ry="2.1" fill="#8d979f" transform="rotate(303 667.4 258.2)"/>
<path d="M686.5 240.8 L689.5 237.3 L694.5 236.3 L706.6 240.8 L714.6 246.9 L696.5 246.4 Z" fill="#fbf7f2" />
<path d="M761.8 244.8 L771.9 237.8 L776.4 242.3 L775.9 247.4 L763.3 247.4 Z" fill="#fbf7f2" />
<path d="M713.6 241.3 L757.3 241.3 L755.3 246.9 L717.1 246.9 Z" fill="#2b2d3a" />
<path d="M706.1 253.4 L768.9 253.4 L765.8 269.0 L710.6 269.5 Z" fill="#2b2d3a" />
<path d="M721.6 257.2 L747.3 257.2 L746.8 264.9 L722.1 264.9 Z" fill="#e9f2ef" />
<path d="M721.6 257.2 L726.7 257.2 L726.7 264.9 L722.1 264.9 Z" fill="#7fc4a8" />
<path d="M554.1 254.2 L565.4 259.3 L531.5 299.5 L516.4 299.5 Z" fill="#a9abc9" />
<path d="M554.1 254.2 L559.1 256.5 L523.9 299.5 L516.4 299.5 Z" fill="#8e90b3" />
<path d="M577.9 273.1 L589.2 273.1 L565.4 299.5 L551.6 299.5 Z" fill="#a9abc9" />
<path d="M577.9 273.1 L582.5 273.1 L557.8 299.5 L551.6 299.5 Z" fill="#8e90b3" />
<path d="M606.3 260.3 L618.0 260.3 L644.9 298.9 L632.9 298.9 Z" fill="#f3f3f8" />
<path d="M606.3 260.3 L612.0 260.3 L638.9 298.9 L632.9 298.9 Z" fill="#a9abc9" />
<path d="M626.0 260.3 L636.9 260.3 L671.1 298.9 L659.0 298.9 Z" fill="#f3f3f8" />
<path d="M626.0 260.3 L631.5 260.3 L665.0 298.9 L659.0 298.9 Z" fill="#a9abc9" />
<path d="M491.8 182.9 L497.5 178.4 L562.1 256.5 L555.1 260.7 Z" fill="#a9abc9" />
<path d="M495.7 179.7 L497.5 178.4 L562.1 256.5 L560.0 257.8 Z" fill="#f3f3f8" />
<path d="M505.1 178.7 L511.1 179.6 L565.4 248.9 L556.3 252.3 Z" fill="#a92420" />
<path d="M605.9 252.7 L647.7 252.7 L647.7 260.3 L605.9 260.3 Z" fill="#f3f3f8" />
<path d="M607.9 260.3 L646.5 260.3 L646.5 262.7 L607.9 262.7 Z" fill="#a9abc9" />
<path d="M524.4 178.1 L526.9 169.3 L536.0 164.5 L547.3 165.0 L554.1 170.3 L555.6 176.9 L551.8 182.6 L554.1 197.7 L547.3 199.5 L539.8 200.7 L534.5 203.0 L528.4 194.7 L525.0 185.6 Z" fill="#1f2230" />
<path d="M512.6 180.8 L520.9 178.8 L526.2 182.6 L527.7 188.6 L540.5 203.7 L539.8 212.8 L531.5 210.5 L509.3 188.9 Z" fill="#f6b996" />
<path d="M527.7 188.6 L540.5 203.7 L539.8 212.8 L535.2 208.2 Z" fill="#e9a07e" />
<path d="M534.9 179.3 L554.1 176.9 L555.1 185.6 L550.6 192.4 L543.1 194.4 L537.0 188.9 Z" fill="#f6b996" />
<path d="M538.5 190.9 L549.1 192.4 L550.3 200.7 L565.4 203.7 L568.4 209.8 L541.3 209.8 L538.2 202.2 Z" fill="#f6b996" />
<path d="M534.0 179.6 L535.2 172.1 L544.3 169.0 L553.3 172.1 L554.8 177.3 L547.3 175.8 L539.8 176.9 Z" fill="#1f2230" />
<path d="M528.9 180.8 L556.3 177.5 L556.6 180.2 L529.5 183.5 Z" fill="#d8383a" />
<ellipse cx="543.1" cy="182.6" rx="3.6" ry="3" fill="#2a1d22"/>
<ellipse cx="552.1" cy="181.4" rx="3.2" ry="2.8" fill="#2a1d22"/>
<path d="M543.1 188.3 L550.0 187.1 L549.1 190.2 L545.5 190.9 Z" fill="#fff" />
<path d="M547.3 193.9 L552.6 192.4 L557.8 201.5 L552.6 200.4 Z" fill="#1f2230" />
<path d="M546.1 222.6 L558.1 217.7 L572.2 215.5 L579.3 220.0 L580.8 230.9 L568.7 234.2 L558.1 238.7 Z" fill="#f6b996" />
<path d="M539.4 205.5 L550.3 201.5 L565.4 203.7 L572.6 215.8 L558.1 218.2 L546.5 223.6 L541.3 217.6 Z" fill="#4a9fe0" />
<path d="M541.3 217.6 L558.1 212.8 L572.6 215.8 L558.1 218.2 L546.5 223.6 Z" fill="#2b6cab" />
<path d="M557.5 238.4 L568.7 233.9 L574.7 241.4 L586.8 249.3 L562.7 250.8 L558.6 244.7 Z" fill="#2b6cab" />
<path d="M557.5 237.2 L568.7 232.4 L569.6 234.5 L558.1 239.6 Z" fill="#fff" />
<path d="M570.2 240.2 L586.2 236.2 L602.3 234.6 L629.4 244.6 L627.4 250.3 L600.3 247.8 L580.2 248.2 Z" fill="#e9a07e" />
<path d="M559.1 235.2 L570.2 222.1 L588.2 211.7 L597.3 219.1 L588.2 238.2 L573.2 247.8 L564.1 246.2 Z" fill="#f6b996" />
<path d="M573.2 247.8 L588.2 238.2 L597.3 219.1 L600.3 226.1 L592.3 243.2 L580.2 249.2 Z" fill="#e9a07e" />
<path d="M586.6 212.5 L592.7 208.4 L598.3 210.1 L638.9 242.6 L634.9 249.4 L590.3 223.7 Z" fill="#f6b996" />
<path d="M626.0 243.4 L634.5 241.8 L649.5 245.4 L651.0 250.3 L628.4 252.7 L625.4 248.2 Z" fill="#1f5560" />
<path d="M626.0 248.2 L651.0 247.8 L651.0 250.3 L628.4 252.7 Z" fill="#143a42" />
<path d="M565.1 204.0 L571.4 205.2 L580.5 217.3 L586.5 205.2 L591.3 199.5 L599.3 201.5 L596.3 207.9 L586.5 221.1 L578.9 224.1 L571.4 217.3 Z" fill="#f6b996" />
<path d="M574.4 215.8 L580.5 217.3 L586.5 205.2 L588.7 208.2 L584.2 220.3 L578.9 224.1 Z" fill="#e9a07e" />
<ellipse cx="590.7" cy="192.9" rx="8.2" ry="7.2" fill="#8b3a2e"/>
<ellipse cx="590.7" cy="188.6" rx="6.8" ry="2.6" transform="rotate(-12 590.7 188.6)" fill="#5e241d"/>
<path d="M589.5 198.4 L601.6 195.4 L602.3 201.5 L595.5 205.2 L590.3 203.7 Z" fill="#f6b996" />
<path d="M591.8 185.6 L595.5 183.4 L601.6 184.9 L602.8 188.6 L597.8 189.9 L593.3 188.6 Z" fill="#f6d33c" />
<path d="M594.0 185.3 L597.8 184.1 L600.8 185.9 L597.8 187.4 Z" fill="#f2b42c" />
<path d="M586.5 188.6 L583.8 183.4 L578.2 182.6" fill="none" stroke="#e0454a" stroke-width="1.1" stroke-linecap="round" stroke-linejoin="round" />
<path d="M560.7 251.3 L606.7 249.2 L606.7 272.4 L600.3 275.8 L564.1 275.8 L560.7 268.3 Z" fill="#c62f2b" />
<path d="M560.7 251.3 L606.7 249.2 L606.7 252.7 L560.7 254.7 Z" fill="#d9433c" />
<g fill="none" stroke="#d9b548" stroke-width="0.9">
<circle cx="250.2" cy="496.3" r="7.3"/><circle cx="250.2" cy="496.3" r="5.4"/>
<circle cx="261.4" cy="507.8" r="10" fill="#fff"/><circle cx="261.4" cy="507.8" r="8.2"/>
<rect x="260" y="496.2" width="2.8" height="2" fill="#d9b548"/>
<path d="M260.6 507.8 L267.5 507.8" stroke-width="1.2"/>
<circle cx="261" cy="507.8" r="1" fill="#d9b548"/>
</g>
<text x="247.8" y="499.6" font-family="Liberation Sans" font-size="9.5" font-weight="bold" font-style="normal" fill="#d9b548" text-anchor="start" textLength="4.8" lengthAdjust="spacingAndGlyphs" >$</text>
<g fill="none" stroke="#8fcdb0" stroke-width="0.8">
<circle cx="431.2" cy="499.9" r="10.8"/><circle cx="431.2" cy="499.9" r="7.7"/>
<path d="M426.2 500.5 A5.2 5.2 0 0 1 436.2 500.5"/>
<circle cx="442.0" cy="499.9" r="1.25" fill="#fff"/>
<circle cx="440.6" cy="505.3" r="1.25" fill="#fff"/>
<circle cx="436.6" cy="509.3" r="1.25" fill="#fff"/>
<circle cx="431.2" cy="510.7" r="1.25" fill="#fff"/>
<circle cx="425.8" cy="509.3" r="1.25" fill="#fff"/>
<circle cx="421.8" cy="505.3" r="1.25" fill="#fff"/>
<circle cx="420.4" cy="499.9" r="1.25" fill="#fff"/>
<circle cx="421.8" cy="494.5" r="1.25" fill="#fff"/>
<circle cx="425.8" cy="490.5" r="1.25" fill="#fff"/>
<circle cx="431.2" cy="489.1" r="1.25" fill="#fff"/>
<circle cx="436.6" cy="490.5" r="1.25" fill="#fff"/>
<circle cx="440.6" cy="494.5" r="1.25" fill="#fff"/>
<path d="M422.5 515.4 L431.2 500.5 L440 515.4 M426.5 510 L431.2 503.8 L436 510 M417 515.4 L445.5 515.4 M417 515.4 L420 515.4 L424 509.5 M445.5 515.4 L442.5 515.4 L438.5 509.5"/>
</g>
<circle cx="759.6" cy="1233.3" r="9.5" fill="#fff"/><circle cx="777.2" cy="1233.3" r="9.5" fill="#fff"/>
<path d="M752.0 1229.0 L756.2 1223.1 L760.4 1219.2 L764.3 1217.6 L767.1 1218.8 L768.1 1220.2 L769.2 1218.8 L772.0 1217.6 L775.9 1219.2 L780.1 1223.1 L784.7 1229.0 L768.1 1232.6 Z" fill="#fff" stroke="#fff" stroke-width="1" stroke-linejoin="round"/>
<circle cx="760.1" cy="1233.5" r="8.3" fill="#76b041"/><circle cx="776.9" cy="1233.5" r="8.3" fill="#76b041"/>
<path d="M760.1 1234.3 L763.2 1231.1 L768.1 1230.1 L771.7 1230.8 L773.1 1229.4 L774.3 1231.3 L776.7 1233.3 L779.8 1236.1 L779.4 1239.0 L776.6 1240.6 L774.6 1242.5 L770.3 1242.5 L768.1 1241.1 L764.6 1242.8 L760.5 1241.8 L759.0 1238.2 Z" fill="#fff" stroke="#fff" stroke-width="1.2" stroke-linejoin="round"/>
<path d="M756.2 1236.1 L757.9 1237.5 L757.2 1238.5 Z" fill="#fff"/>
</svg>
</body></html>
